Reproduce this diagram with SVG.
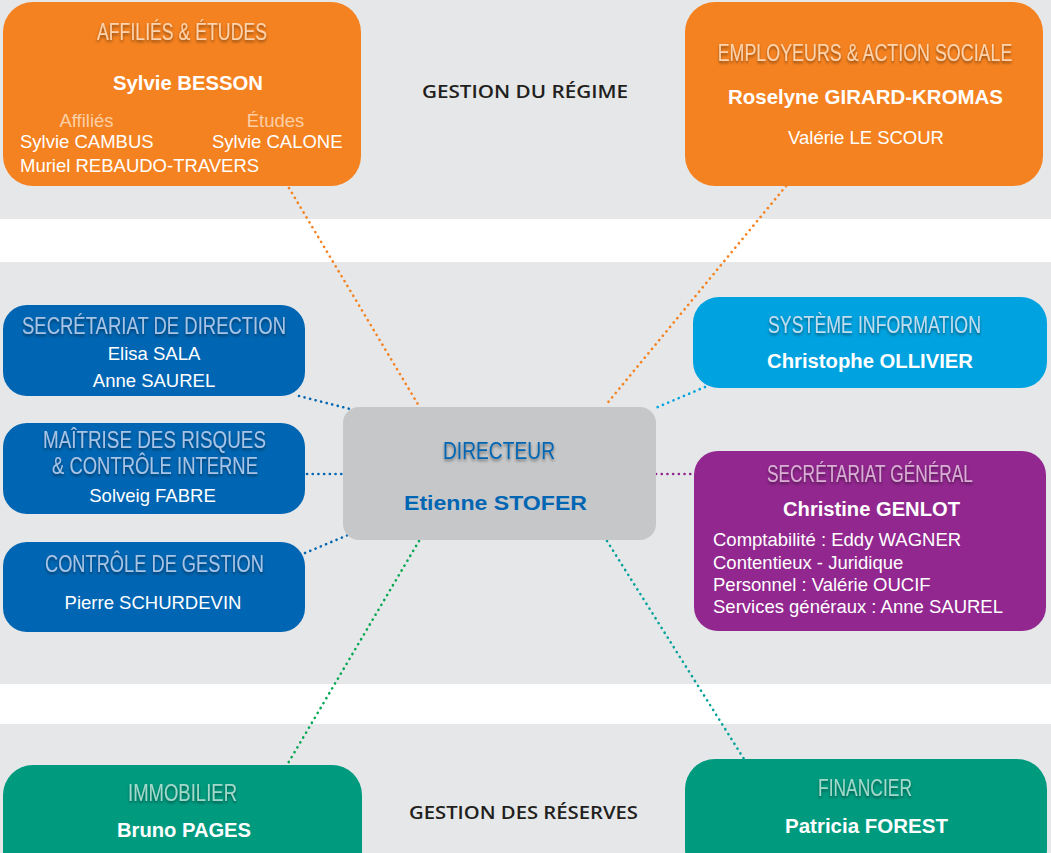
<svg xmlns="http://www.w3.org/2000/svg" width="1051" height="853" viewBox="0 0 1051 853">
  <defs>
    <filter id="shadow" filterUnits="userSpaceOnUse" x="0" y="0" width="1051" height="853">
      <feDropShadow dx="0" dy="2" stdDeviation="1.6" flood-color="#000" flood-opacity="0.45"/>
    </filter>
    <filter id="shadow2" x="-20%" y="-60%" width="140%" height="220%">
      <feDropShadow dx="0" dy="2" stdDeviation="1.6" flood-color="#000" flood-opacity="0.45"/>
    </filter>
  </defs>
  <style>
    .title { font-family: "Liberation Sans Narrow", "Liberation Sans", Arial, sans-serif; font-size: 23px; text-anchor: middle; filter: url(#shadow); }
    .name { font-family: "Liberation Sans", Arial, sans-serif; font-size: 20px; font-weight: bold; fill: #ffffff; text-anchor: middle; }
    .body { font-family: "Liberation Sans", Arial, sans-serif; font-size: 18.5px; fill: #ffffff; }
    .mid { text-anchor: middle; }
    .section { font-family: "Open Sans", "Liberation Sans", Arial, sans-serif; font-size: 18px; font-weight: 600; fill: #231f20; text-anchor: middle; }
    .conn { fill: none; stroke-width: 2.6; stroke-linecap: round; stroke-dasharray: 0.1 5.6; }
    .orange { fill: #f58220; }
    .blue { fill: #0066b3; }
    .cyan { fill: #00a3e0; }
    .purple { fill: #92278f; }
    .green { fill: #009b7f; }
  </style>

  <!-- background bands -->
  <rect x="0" y="0" width="1051" height="853" fill="#e6e7e8"/>
  <rect x="0" y="219" width="1051" height="43" fill="#ffffff"/>
  <rect x="0" y="684" width="1051" height="40" fill="#ffffff"/>

  <text class="section" x="525" y="98" textLength="206" lengthAdjust="spacingAndGlyphs">GESTION DU RÉGIME</text>
  <text class="section" x="523.5" y="819" textLength="229" lengthAdjust="spacingAndGlyphs">GESTION DES RÉSERVES</text>

  <g id="connectors">
    <line class="conn" x1="289" y1="188" x2="419" y2="406" stroke="#f58220"/>
    <line class="conn" x1="786" y1="186" x2="605" y2="406" stroke="#f58220"/>
    <line class="conn" x1="299" y1="396" x2="350" y2="409" stroke="#0066b3"/>
    <line class="conn" x1="307" y1="474" x2="343" y2="474" stroke="#0066b3"/>
    <line class="conn" x1="305" y1="553" x2="348" y2="535" stroke="#0066b3"/>
    <line class="conn" x1="705" y1="387" x2="653" y2="409" stroke="#00a3e0"/>
    <line class="conn" x1="656" y1="474" x2="694" y2="474" stroke="#92278f"/>
    <line class="conn" x1="419" y1="541" x2="287" y2="765" stroke="#00a651"/>
    <line class="conn" x1="607" y1="541" x2="744" y2="759" stroke="#00a19a"/>
  </g>

  <g id="affilies-etudes">
    <rect class="orange" x="3" y="2" width="358" height="184" rx="30"/>
    <text class="title" x="182" y="39.5" font-size="21.5" fill="#fbd3ae" textLength="170" lengthAdjust="spacingAndGlyphs">AFFILIÉS &amp; ÉTUDES</text>
    <text class="name" x="188" y="90" textLength="150" lengthAdjust="spacingAndGlyphs">Sylvie BESSON</text>
    <text class="body mid" x="86.5" y="127" style="fill:#fbcfa6">Affiliés</text>
    <text class="body mid" x="275.5" y="127" style="fill:#fbcfa6">Études</text>
    <text class="body" x="20" y="148">Sylvie CAMBUS</text>
    <text class="body" x="212" y="148">Sylvie CALONE</text>
    <text class="body" x="20" y="172">Muriel REBAUDO-TRAVERS</text>
  </g>

  <g id="employeurs-action-sociale">
    <rect class="orange" x="685" y="2" width="358" height="184" rx="30"/>
    <text class="title" transform="translate(865 60.5) scale(0.777 1)" x="0" y="0" font-size="21.5" fill="#fbd3ae" style="filter:url(#shadow2)">EMPLOYEURS &amp; ACTION SOCIALE</text>
    <text class="name" x="865.5" y="104" textLength="275" lengthAdjust="spacingAndGlyphs">Roselyne GIRARD-KROMAS</text>
    <text class="body mid" x="866" y="144" font-size="18">Valérie LE SCOUR</text>
  </g>

  <g id="secretariat-direction">
    <rect class="blue" x="3" y="305" width="302" height="91" rx="24"/>
    <text class="title" x="154" y="333.5" fill="#a9c3e5" textLength="264" lengthAdjust="spacingAndGlyphs">SECRÉTARIAT DE DIRECTION</text>
    <text class="body mid" x="154" y="360">Elisa SALA</text>
    <text class="body mid" x="154" y="387">Anne SAUREL</text>
  </g>

  <g id="maitrise-risques">
    <rect class="blue" x="3" y="423" width="302" height="91" rx="24"/>
    <text class="title" x="154.5" y="447.5" fill="#a9c3e5" textLength="223" lengthAdjust="spacingAndGlyphs">MAÎTRISE DES RISQUES</text>
    <text class="title" x="155" y="473.5" fill="#a9c3e5" textLength="206" lengthAdjust="spacingAndGlyphs">&amp; CONTRÔLE INTERNE</text>
    <text class="body mid" x="152.5" y="502">Solveig FABRE</text>
  </g>

  <g id="controle-gestion">
    <rect class="blue" x="3" y="542" width="302" height="90" rx="24"/>
    <text class="title" x="154.5" y="571.5" fill="#a9c3e5" textLength="219" lengthAdjust="spacingAndGlyphs">CONTRÔLE DE GESTION</text>
    <text class="body mid" x="153" y="609">Pierre SCHURDEVIN</text>
  </g>

  <g id="directeur">
    <rect x="343" y="407" width="313" height="133" rx="16" fill="#c6c7c9"/>
    <text class="title" x="499" y="458.5" font-size="26" fill="#0066b3" textLength="112" lengthAdjust="spacingAndGlyphs">DIRECTEUR</text>
    <text class="name" x="495.5" y="510" font-size="23" style="fill:#0066b3" textLength="183" lengthAdjust="spacingAndGlyphs">Etienne STOFER</text>
  </g>

  <g id="systeme-information">
    <rect class="cyan" x="693" y="297" width="354" height="91" rx="26"/>
    <text class="title" x="874.5" y="332.5" fill="#c3dcee" textLength="213" lengthAdjust="spacingAndGlyphs">SYSTÈME INFORMATION</text>
    <text class="name" x="870" y="368" textLength="206" lengthAdjust="spacingAndGlyphs">Christophe OLLIVIER</text>
  </g>

  <g id="secretariat-general">
    <rect class="purple" x="694" y="451" width="352" height="180" rx="24"/>
    <text class="title" x="870" y="481.5" fill="#d8b0d3" textLength="206" lengthAdjust="spacingAndGlyphs">SECRÉTARIAT GÉNÉRAL</text>
    <text class="name" x="871.5" y="516" textLength="177" lengthAdjust="spacingAndGlyphs">Christine GENLOT</text>
    <text class="body" x="713" y="546">Comptabilité : Eddy WAGNER</text>
    <text class="body" x="713" y="568.5">Contentieux - Juridique</text>
    <text class="body" x="713" y="591">Personnel : Valérie OUCIF</text>
    <text class="body" x="713" y="613">Services généraux : Anne SAUREL</text>
  </g>

  <g id="immobilier">
    <rect class="green" x="3" y="765" width="359" height="120" rx="30"/>
    <text class="title" x="182.5" y="800.5" fill="#a3d8ca" textLength="109" lengthAdjust="spacingAndGlyphs">IMMOBILIER</text>
    <text class="name" x="184" y="837" textLength="134" lengthAdjust="spacingAndGlyphs">Bruno PAGES</text>
  </g>

  <g id="financier">
    <rect class="green" x="685" y="759" width="362" height="120" rx="30"/>
    <text class="title" x="865" y="795.5" fill="#a3d8ca" textLength="94" lengthAdjust="spacingAndGlyphs">FINANCIER</text>
    <text class="name" x="866.5" y="833" textLength="163" lengthAdjust="spacingAndGlyphs">Patricia FOREST</text>
  </g>
</svg>
